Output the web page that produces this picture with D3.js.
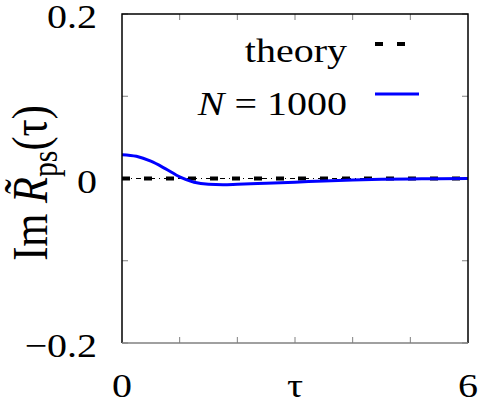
<!DOCTYPE html>
<html>
<head>
<meta charset="utf-8">
<script src="https://cdn.jsdelivr.net/npm/d3@7"></script>
<style>
  body { margin: 0; background: #fff; }
</style>
</head>
<body>
<svg id="chart" width="478" height="400"></svg>
<script>
// data
const tau = [0, 0.25, 0.5, 0.75, 1.0, 1.25, 1.5, 1.75, 2.0, 2.5, 3.0, 3.5, 4.0, 4.5, 5.0, 5.5, 6.0];
const simN1000 = [0.029, 0.027, 0.021, 0.012, 0.002, -0.0045, -0.007, -0.0075, -0.007, -0.0058, -0.0045, -0.003, -0.0018, -0.001, -0.0005, -0.0002, 0.0];
const theoryTau = [0, 6];
const theoryVal = [0, 0];
const xTicks = [1, 2, 3, 4, 5];
const yTicks = [-0.2, -0.1, 0, 0.1, 0.2];
const xLabels = [{ v: 0, t: '0' }, { v: 3, t: 'τ' }, { v: 6, t: '6' }];
const yLabels = [{ v: 0.2, t: '0.2' }, { v: 0, t: '0' }, { v: -0.2, t: '−0.2' }];

const svg = d3.select('#chart');
const m = { left: 122, right: 468, top: 14, bottom: 343 };
const fontFam = '"Liberation Serif"';
const squash = 0.85; // text in the original is squeezed vertically

const x = d3.scaleLinear().domain([0, 6]).range([m.left, m.right]);
const y = d3.scaleLinear().domain([-0.2, 0.2]).range([m.bottom, m.top]);

const grey = '#808080';

function label(px, py, size, anchor) {
  return svg.append('text')
    .attr('transform', 'translate(' + px + ',' + py + ') scale(1,' + squash + ')')
    .style('font-family', fontFam).attr('font-size', size)
    .attr('text-anchor', anchor);
}

// ticks, inward, on all four sides
const g = svg.append('g');
xTicks.forEach(function(v) {
  g.append('line').attr('x1', x(v)).attr('x2', x(v)).attr('y1', m.bottom).attr('y2', m.bottom - 6)
    .attr('stroke', grey).attr('stroke-width', 1);
  g.append('line').attr('x1', x(v)).attr('x2', x(v)).attr('y1', m.top).attr('y2', m.top + 6)
    .attr('stroke', grey).attr('stroke-width', 1);
});
yTicks.forEach(function(v) {
  g.append('line').attr('x1', m.left).attr('x2', m.left + 6).attr('y1', y(v)).attr('y2', y(v))
    .attr('stroke', grey).attr('stroke-width', 1);
  g.append('line').attr('x1', m.right).attr('x2', m.right - 6).attr('y1', y(v)).attr('y2', y(v))
    .attr('stroke', grey).attr('stroke-width', 1);
});

// zero axis (thin dash-dot)
svg.append('line')
  .attr('x1', x(0)).attr('x2', x(6)).attr('y1', y(0)).attr('y2', y(0))
  .attr('stroke', '#000').attr('stroke-width', 1).attr('stroke-dasharray', '5,4,1,4');

// theory line
const theoryLine = d3.line().x(function(d, i) { return x(theoryTau[i]); }).y(function(d) { return y(d); });
svg.append('path')
  .attr('d', theoryLine(theoryVal))
  .attr('fill', 'none').attr('stroke', '#000').attr('stroke-width', 4)
  .attr('stroke-dasharray', '8,14');

// N = 1000 curve
const simLine = d3.line()
  .x(function(d, i) { return x(tau[i]); })
  .y(function(d) { return y(d); })
  .curve(d3.curveMonotoneX);
svg.append('path')
  .attr('d', simLine(simN1000))
  .attr('fill', 'none').attr('stroke', '#0000ff').attr('stroke-width', 3);

// border
svg.append('path')
  .attr('d', 'M' + m.left + ',' + m.bottom + 'V' + m.top + 'H' + m.right + 'V' + m.bottom)
  .attr('fill', 'none').attr('stroke', '#000').attr('stroke-width', 1.5);
svg.append('line')
  .attr('x1', m.left).attr('x2', m.right).attr('y1', m.bottom).attr('y2', m.bottom)
  .attr('stroke', grey).attr('stroke-width', 1.5);

// tick labels
yLabels.forEach(function(d) {
  label(97, y(d.v) + 14, 40, 'end').text(d.t);
});
xLabels.forEach(function(d) {
  label(x(d.v), 397, 40, 'middle').text(d.t);
});

// y axis title
const yt = svg.append('text')
  .attr('transform', 'translate(47,183) scale(1,' + squash + ') rotate(-90)')
  .style('font-family', fontFam).attr('font-size', 50)
  .attr('text-anchor', 'middle');
yt.append('tspan').text('Im ');
yt.append('tspan').attr('font-style', 'italic').text('R\u0303');
yt.append('tspan').attr('font-size', 35).attr('dy', 10).text('ps');
yt.append('tspan').attr('dy', -10).text('(τ)');

// legend
const legend = [
  { label: 'theory', color: '#000', width: 4, dash: '8,14', y: 44, base: 62 },
  { label: 'N', color: '#0000ff', width: 3, dash: null, y: 94, base: 115 }
];
legend.forEach(function(d) {
  const t = label(347, d.base, 40, 'end');
  if (d.label === 'N') {
    t.append('tspan').attr('font-style', 'italic').text('N');
    t.append('tspan').text(' = 1000');
  } else {
    t.text(d.label);
  }
  svg.append('line').attr('x1', 375).attr('x2', 419).attr('y1', d.y).attr('y2', d.y)
    .attr('stroke', d.color).attr('stroke-width', d.width)
    .attr('stroke-dasharray', d.dash);
});
</script>
</body>
</html>
